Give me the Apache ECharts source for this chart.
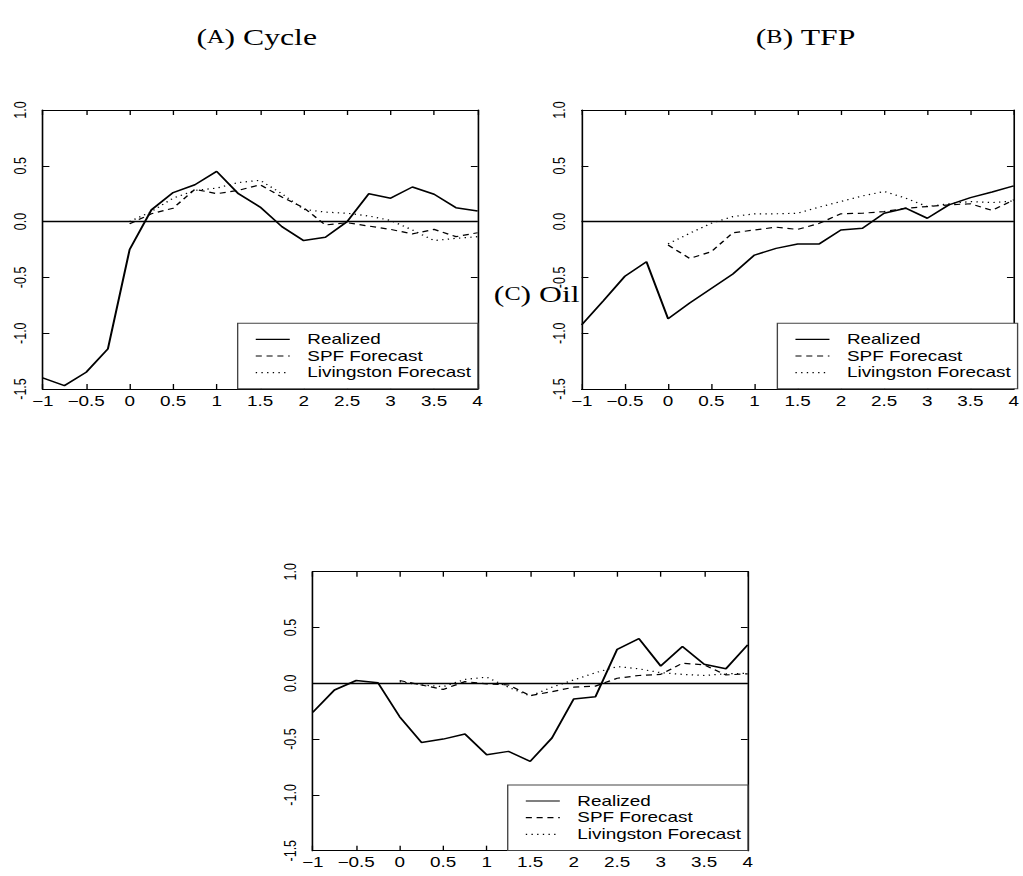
<!DOCTYPE html>
<html>
<head>
<meta charset="utf-8">
<script src="https://cdn.jsdelivr.net/npm/echarts@6/dist/echarts.min.js"></script>
<style>
  html, body { margin: 0; padding: 0; background: #fff; overflow: hidden; }
  /* the figure is drawn at a narrower width and widened horizontally */
  #main { width: 758px; height: 876px; transform: scaleX(1.3496); transform-origin: 0 0; }
</style>
</head>
<body>
<div id="main"></div>
<script>
// Horizon in years, quarterly steps
const quarters = [-1, -0.75, -0.5, -0.25, 0, 0.25, 0.5, 0.75, 1, 1.25, 1.5, 1.75, 2, 2.25, 2.5, 2.75, 3, 3.25, 3.5, 3.75, 4];
const forecastQuarters = [0, 0.25, 0.5, 0.75, 1, 1.25, 1.5, 1.75, 2, 2.25, 2.5, 2.75, 3, 3.25, 3.5, 3.75, 4];

// (A) Cycle
const cycleRealized = [-1.40, -1.47, -1.35, -1.14, -0.25, 0.105, 0.26, 0.33, 0.45, 0.25, 0.13, -0.045, -0.17, -0.14, 0.0, 0.25, 0.21, 0.31, 0.245, 0.125, 0.095];
const cycleSPF = [-0.02, 0.07, 0.12, 0.29, 0.25, 0.28, 0.33, 0.22, 0.125, -0.03, -0.01, -0.04, -0.07, -0.11, -0.07, -0.135, -0.10];
const cycleLivingston = [0.0, 0.09, 0.21, 0.28, 0.30, 0.35, 0.37, 0.25, 0.11, 0.085, 0.075, 0.05, 0.01, -0.075, -0.17, -0.15, -0.135];

// (B) TFP
const tfpRealized = [-0.925, -0.71, -0.49, -0.36, -0.87, -0.73, -0.60, -0.47, -0.30, -0.24, -0.20, -0.20, -0.075, -0.06, 0.075, 0.12, 0.03, 0.15, 0.215, 0.265, 0.32];
const tfpSPF = [-0.21, -0.33, -0.27, -0.10, -0.075, -0.05, -0.07, -0.015, 0.07, 0.075, 0.09, 0.12, 0.135, 0.15, 0.16, 0.10, 0.195];
const tfpLivingston = [-0.20, -0.105, -0.015, 0.045, 0.07, 0.07, 0.075, 0.13, 0.18, 0.23, 0.27, 0.21, 0.135, 0.16, 0.18, 0.17, 0.185];

// (C) Oil
const oilRealized = [-0.26, -0.06, 0.025, 0.005, -0.30, -0.53, -0.50, -0.455, -0.64, -0.61, -0.70, -0.49, -0.14, -0.12, 0.305, 0.40, 0.155, 0.33, 0.17, 0.13, 0.345];
const oilSPF = [0.025, -0.015, -0.055, 0.015, -0.005, -0.015, -0.11, -0.075, -0.035, -0.025, 0.045, 0.07, 0.08, 0.18, 0.165, 0.075, 0.085];
const oilLivingston = [0.015, -0.015, -0.03, 0.035, 0.055, -0.035, -0.115, -0.035, 0.03, 0.095, 0.15, 0.13, 0.095, 0.08, 0.07, 0.085, 0.09];

const seriesNames = ['Realized', 'SPF Forecast', 'Livingston Forecast'];
const panelTitles = ['A', 'B', 'C'];
const panelNames = ['Cycle', 'TFP', 'Oil'];

const panels = [
  { realized: cycleRealized, spf: cycleSPF, liv: cycleLivingston },
  { realized: tfpRealized, spf: tfpSPF, liv: tfpLivingston },
  { realized: oilRealized, spf: oilSPF, liv: oilLivingston }
];

// layout (in the un-widened drawing space)
const grids = [
  { left: 31.6, top: 110, width: 322.3, height: 279 },
  { left: 431.0, top: 110, width: 322.8, height: 279 },
  { left: 231.7, top: 571.7, width: 322.3, height: 279 }
];
const titlePos = [
  { x: 185.2, y: 20 },
  { x: 592.0, y: 20 },
  { x: 392.7, y: 277 }
];

const FONT = 'Liberation Sans, Arial, Helvetica, sans-serif';
const SERIF = 'Liberation Serif, DejaVu Serif, serif';
const pairs = (xs, ys) => xs.map((x, i) => [x, ys[i]]);
const fmtX = v => String(v).replace('-', '\u2212');
const fmtY = v => v.toFixed(1);

const xAxes = [], yAxes = [], series = [], legends = [], titles = [];

grids.forEach((g, i) => {
  const axisLine = { show: true, onZero: false, lineStyle: { color: '#000', width: 1.2 } };
  const tick = { show: true, inside: true, length: 5, lineStyle: { color: '#000', width: 1 } };
  // bottom and top x axes
  xAxes.push({
    type: 'value', gridIndex: i, position: 'bottom', min: -1, max: 4, interval: 0.5,
    axisLine, axisTick: tick, splitLine: { show: false },
    axisLabel: { show: true, margin: 5, fontSize: 14, fontFamily: FONT, color: '#000', formatter: fmtX }
  });
  xAxes.push({
    type: 'value', gridIndex: i, position: 'top', min: -1, max: 4, interval: 0.5,
    axisLine, axisTick: tick, splitLine: { show: false }, axisLabel: { show: false }
  });
  // left and right y axes
  yAxes.push({
    type: 'value', gridIndex: i, position: 'left', min: -1.5, max: 1, interval: 0.5,
    axisLine, axisTick: tick, splitLine: { show: false },
    axisLabel: { show: true, rotate: 90, margin: 10, fontSize: 12.5, fontFamily: FONT, color: '#000', formatter: fmtY }
  });
  yAxes.push({
    type: 'value', gridIndex: i, position: 'right', min: -1.5, max: 1, interval: 0.5,
    axisLine, axisTick: tick, splitLine: { show: false }, axisLabel: { show: false }
  });

  const p = panels[i];
  const common = {
    type: 'line', xAxisIndex: 2 * i, yAxisIndex: 2 * i, symbol: 'none', silent: true, animation: false,
    itemStyle: { color: '#000', opacity: 0 }
  };
  series.push(Object.assign({}, common, {
    name: seriesNames[0], data: pairs(quarters, p.realized),
    lineStyle: { color: '#000', width: 1.5, type: 'solid' }, z: 5,
    markLine: {
      silent: true, symbol: 'none', label: { show: false },
      lineStyle: { color: '#000', width: 1.3, type: 'solid' },
      data: [{ yAxis: 0 }]
    }
  }));
  series.push(Object.assign({}, common, {
    name: seriesNames[1], data: pairs(forecastQuarters, p.spf),
    lineStyle: { color: '#000', width: 1.2, type: [4.5, 3.5] }, z: 4
  }));
  series.push(Object.assign({}, common, {
    name: seriesNames[2], data: pairs(forecastQuarters, p.liv),
    lineStyle: { color: '#000', width: 1.2, type: [1, 3.2] }, z: 3
  }));

  legends.push({
    data: seriesNames, orient: 'vertical',
    left: g.left + g.width - 177.8, top: g.top + g.height - 65.7,
    padding: [9, 5, 9, 12.8], itemGap: 2.7, itemWidth: 25.2, itemHeight: 14,
    backgroundColor: '#fff', borderColor: '#444', borderWidth: 1, borderRadius: 0,
    selectedMode: false,
    itemStyle: { opacity: 0 },
    lineStyle: { width: 1.2 },
    textStyle: { fontSize: 14, fontFamily: FONT, color: '#000', lineHeight: 14, padding: [0, 0, 0, 8] }
  });

  titles.push({
    text: '({sc|' + panelTitles[i] + '}) ' + panelNames[i],
    left: titlePos[i].x, top: titlePos[i].y, textAlign: 'center',
    textStyle: {
      fontFamily: SERIF, fontSize: 23.5, fontWeight: 'normal', color: '#000',
      rich: { sc: { fontFamily: SERIF, fontSize: 18, color: '#000' } }
    }
  });
});

const chart = echarts.init(document.getElementById('main'), null, { renderer: 'svg' });
chart.setOption({
  animation: false,
  backgroundColor: '#fff',
  title: titles,
  grid: grids,
  xAxis: xAxes,
  yAxis: yAxes,
  legend: legends,
  series: series
});
</script>
</body>
</html>
